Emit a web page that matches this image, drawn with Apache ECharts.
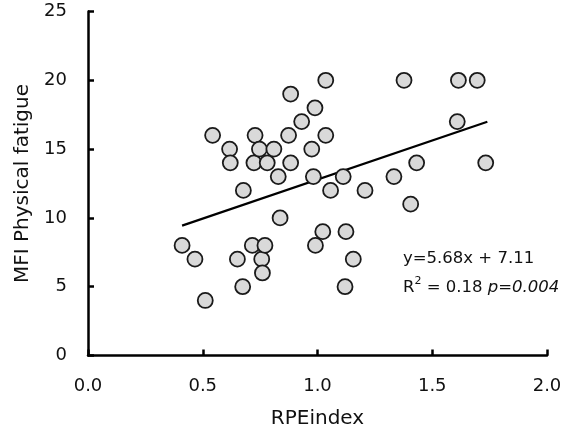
<!DOCTYPE html>
<html><head><meta charset="utf-8">
<script src="https://cdn.jsdelivr.net/npm/echarts@6/dist/echarts.min.js"></script>
<style>html,body{margin:0;padding:0;background:#fff}#c{width:578px;height:441px}</style>
</head><body><div id="c"></div>
<script>
const rpeIndex = [0.41,0.466,0.511,0.543,0.617,0.62,0.651,0.674,0.677,0.716,0.723,0.728,0.747,0.757,0.76,0.771,0.781,0.81,0.829,0.837,0.874,0.883,0.883,0.931,0.975,0.982,0.989,0.991,1.023,1.036,1.036,1.057,1.112,1.124,1.12,1.156,1.207,1.333,1.377,1.406,1.432,1.609,1.614,1.696,1.733];
const mfiPhysical = [8,7,4,16,15,14,7,5,12,8,14,16,15,7,6,8,14,15,13,10,16,19,14,17,15,13,18,8,9,20,16,12,13,9,5,7,12,13,20,11,14,17,20,20,14];
const trendSlope = 5.68, trendIntercept = 7.11;
const trendX = [0.41, 1.74];
const xTicks = ['0.0','0.5','1.0','1.5','2.0'];
const yTicks = [0,5,10,15,20,25];

const points = rpeIndex.map((x,i)=>[x, mfiPhysical[i]]);
const trend = trendX.map(x=>[x, trendSlope*x + trendIntercept]);
const FONT = '"DejaVu Sans", sans-serif';
const chart = echarts.init(document.getElementById('c'));
chart.setOption({
  animation:false,
  grid:{left:88,right:31,top:11.5,bottom:85.5,containLabel:false},
  xAxis:{type:'value',min:0,max:2,interval:0.5,
    axisLine:{show:true,lineStyle:{color:'#000',width:2.5}},
    axisTick:{show:true,inside:true,length:6,lineStyle:{color:'#000',width:2.5}},
    splitLine:{show:false},
    axisLabel:{color:'#111',fontSize:18,fontFamily:FONT,margin:22,
      formatter:v=>xTicks[Math.round(v/0.5)]},
    name:'RPEindex',nameLocation:'middle',nameGap:53,
    nameTextStyle:{color:'#111',fontSize:20,fontFamily:FONT}},
  yAxis:{type:'value',min:0,max:25,interval:5,
    axisLine:{show:true,lineStyle:{color:'#000',width:2.5}},
    axisTick:{show:true,inside:true,length:6,lineStyle:{color:'#000',width:2.5}},
    splitLine:{show:false},
    axisLabel:{color:'#111',fontSize:18,fontFamily:FONT,margin:21,
      formatter:v=>String(yTicks[Math.round(v/5)])},
    name:'MFI Physical fatigue',nameLocation:'middle',nameGap:50,
    nameTextStyle:{color:'#111',fontSize:20,fontFamily:FONT}},
  series:[
    {type:'line',data:trend,symbol:'none',lineStyle:{color:'#000',width:2.2},z:2,silent:true},
    {type:'scatter',data:points,symbol:'circle',symbolSize:15,
     itemStyle:{color:'#d9d9d9',borderColor:'#1a1a1a',borderWidth:1.8,opacity:1},z:3}
  ],
  graphic:[
    {type:'text',left:403,top:250,style:{text:'y=5.68x + 7.11',fill:'#111',font:'16.5px '+FONT}},
    {type:'text',left:403,top:276,style:{
      text:'{n|R}{s|2}{n| = 0.18 }{i|p=0.004}',
      rich:{n:{fontSize:16.5,fontFamily:FONT,fill:'#111',verticalAlign:'bottom',lineHeight:20},
            s:{fontSize:11,fontFamily:FONT,fill:'#111',verticalAlign:'top',lineHeight:20,padding:[0,0,8,0]},
            i:{fontSize:16.5,fontFamily:FONT,fill:'#111',fontStyle:'italic',verticalAlign:'bottom',lineHeight:20}}}}
  ]
});
</script></body></html>
